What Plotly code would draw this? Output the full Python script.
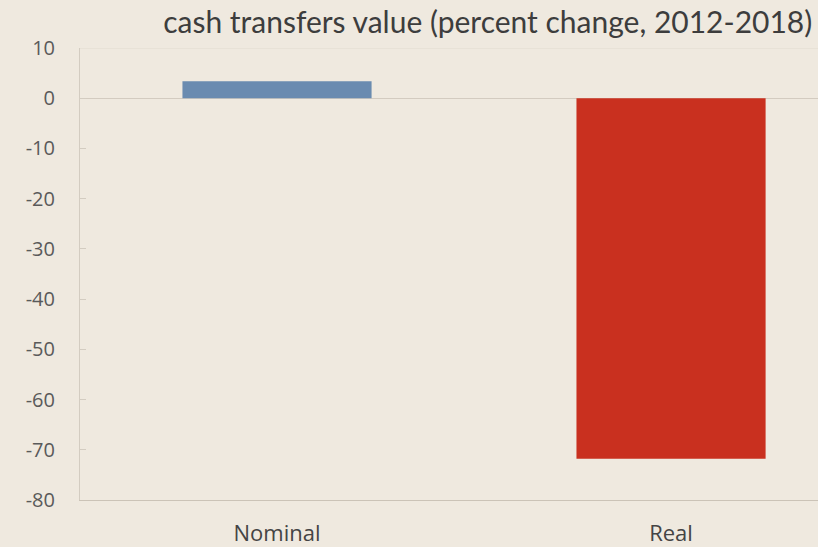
import plotly.graph_objects as go

categories = ["Nominal", "Real"]
values = [3.4, -71.8]
bar_colors = ["#6a8bb0", "#c9301f"]
y_ticks = [10, 0, -10, -20, -30, -40, -50, -60, -70, -80]
y_tick_labels = [str(v) for v in y_ticks]  # plain hyphen, as in the original

paper = "#efe9df"

fig = go.Figure()
fig.add_trace(go.Bar(
    x=categories,
    y=values,
    marker=dict(color=bar_colors, line=dict(width=0)),
    width=0.48,
))

fig.update_layout(
    width=818,
    height=547,
    margin=dict(l=80, r=0, t=48, b=47),
    paper_bgcolor=paper,
    plot_bgcolor=paper,
    showlegend=False,
    title=dict(
        text="cash transfers value (percent change, 2012-2018)",
        x=0.993, xanchor="right", y=0.978, yanchor="top",
        font=dict(family="Lato", size=30, color="#3d3d3d"),
    ),
    font=dict(family="Open Sans", color="#5a5a5a"),
)

fig.update_xaxes(
    range=[-0.5, 1.373],
    showgrid=False,
    showline=True, linecolor="#cbc3b7", linewidth=1,
    ticks="",
    ticklabelstandoff=14,
    tickfont=dict(family="Open Sans", size=22, color="#444444"),
)
fig.update_yaxes(
    range=[-80, 10],
    tickvals=y_ticks,
    ticktext=y_tick_labels,
    showgrid=False,
    zeroline=True, zerolinecolor="#d3cbc0", zerolinewidth=1,
    showline=True, linecolor="#d3ccc1", linewidth=1,
    ticks="inside", ticklen=6, tickcolor="#d3ccc1",
    ticklabelstandoff=20,
    tickfont=dict(family="Open Sans", size=20, color="#5a5a5a"),
)
# faint top border
fig.add_shape(type="line", xref="paper", yref="y", x0=0, x1=1, y0=10, y1=10,
              line=dict(color="#e2dbd0", width=1))

fig.write_html("out.html", config={"displayModeBar": False},
               post_script="document.body.style.margin='0';")
